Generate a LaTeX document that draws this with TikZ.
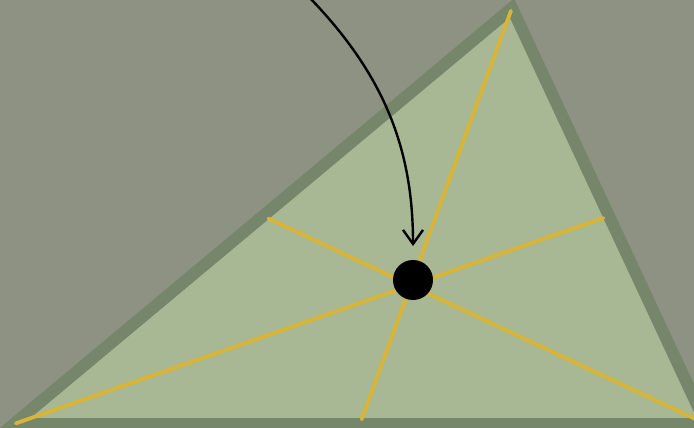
\documentclass[tikz,border=0pt]{standalone}
\usetikzlibrary{calc,arrows.meta}
\definecolor{bgc}{HTML}{8D9283}
\definecolor{tfill}{HTML}{A8B894}
\definecolor{tborder}{HTML}{76866A}
\definecolor{medc}{HTML}{D8B536}
\tikzset{
  tri/.style={fill=tfill, draw=tborder, line width=12pt, line join=miter},
  median/.style={draw=medc, line width=3.8pt, line cap=round},
  centroid/.style={circle, fill=black, minimum size=40pt, inner sep=0pt},
  pointer/.style={draw=black, line width=2.4pt, -{Straight Barb[length=14pt,width=20pt,line width=2.4pt]}}
}
\begin{document}
\begin{tikzpicture}[x=1pt,y=-1pt]
  \fill[bgc] (0,0) rectangle (694,428);
  \useasboundingbox (0,0) rectangle (694,428);
  \begin{scope}
    \clip (0,0) rectangle (694,428);
    \coordinate (A) at (14,424);
    \coordinate (B) at (512,8);
    \coordinate (C) at (706,424);
    \path[tri] (A) -- (B) -- (C) -- (A) -- cycle;
    \coordinate (mBC) at ($(B)!0.5!(C)$);
    \coordinate (mAC) at ($(A)!0.5!(C)$);
    \coordinate (mAB) at ($(A)!0.5!(B)$);
    \draw[median, shorten >=6pt, shorten <=2pt] (A) -- (mBC);
    \draw[median, shorten >=5pt, shorten <=3pt] (B) -- (mAC);
    \draw[median, shorten >=6pt, shorten <=2pt] (C) -- (mAB);
    \node[centroid] (G) at (413,280) {};
    \coordinate (S) at (308,-4);
    \draw[pointer] (S) .. controls (385,75) and (413,150) .. (413,246);
  \end{scope}
\end{tikzpicture}
\end{document}
